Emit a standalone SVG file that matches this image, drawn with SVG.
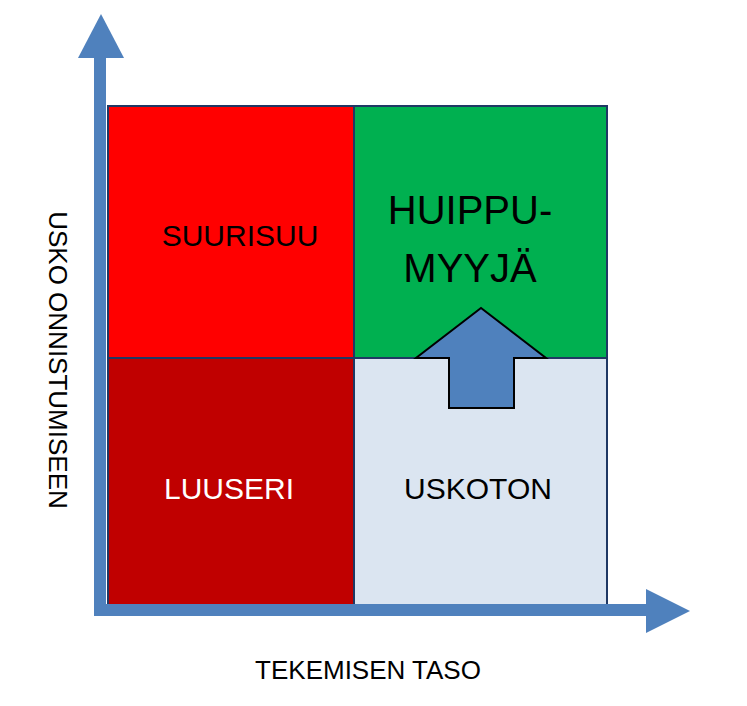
<svg xmlns="http://www.w3.org/2000/svg" width="747" height="706" viewBox="0 0 747 706">
<style>
.q{stroke:#1f3864;stroke-width:2}
.t{font-family:"Liberation Sans Narrow","Liberation Sans",sans-serif;text-anchor:middle}
.ax{fill:#4f81bd}
</style>
<rect width="747" height="706" fill="#fff"/>
<g id="suurisuu"><rect class="q" x="108" y="106" width="246" height="252" fill="#ff0000"/><text class="t" x="240" y="246" font-size="30">SUURISUU</text></g>
<g id="huippumyyja"><rect class="q" x="354" y="106" width="253" height="252" fill="#00b050"/><text class="t" x="470" y="224" font-size="40">HUIPPU-</text><text class="t" x="470" y="282" font-size="40">MYYJÄ</text></g>
<g id="luuseri"><rect class="q" x="108" y="358" width="246" height="247" fill="#c00000"/><text class="t" x="229" y="499" font-size="30" fill="#fff">LUUSERI</text></g>
<g id="uskoton"><rect class="q" x="354" y="358" width="253" height="247" fill="#dbe5f1"/><text class="t" x="478" y="499" font-size="30">USKOTON</text></g>
<g id="connectors">
<rect class="ax" x="94" y="56" width="12" height="560"/>
<polygon class="ax" points="101,14 124,58 78,58"/>
<rect class="ax" x="94" y="604" width="556" height="12"/>
<polygon class="ax" points="690,611 646,589 646,633"/>
<polygon points="449,408 514,408 514,358 546,358 481,308 416,358 449,358" fill="#4f81bd" stroke="#000" stroke-width="2"/>
</g>
<text class="t" x="368" y="679" font-size="26">TEKEMISEN TASO</text>
<text class="t" font-size="26" transform="translate(49,360) rotate(90)">USKO ONNISTUMISEEN</text>
</svg>
